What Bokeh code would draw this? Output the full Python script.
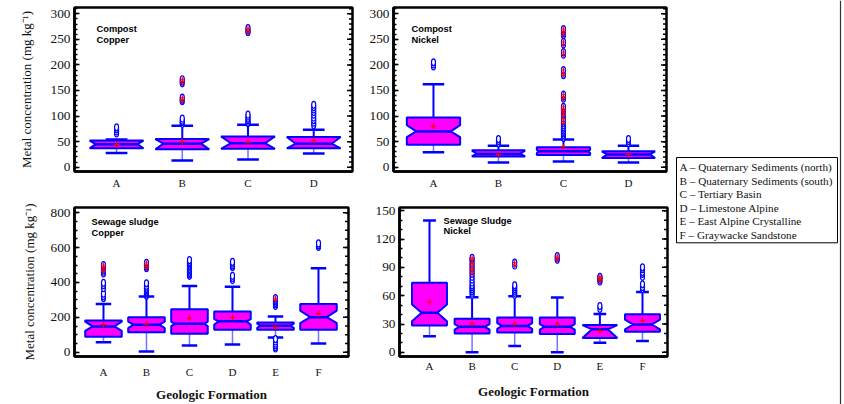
import numpy as np
from bokeh.plotting import figure
from bokeh.models import Range1d, FixedTicker, Label, Span
from bokeh.layouts import row, column
from bokeh.embed import file_html
from bokeh.resources import INLINE
from bokeh.core.properties import value

# ---------------- data ----------------
compost_cats = ["A", "B", "C", "D"]
sludge_cats = ["A", "B", "C", "D", "E", "F"]

legend_labels = [
    "A \u2013 Quaternary Sediments (north)",
    "B \u2013 Quaternary Sediments (south)",
    "C \u2013 Tertiary Basin",
    "D \u2013 Limestone Alpine",
    "E \u2013 East Alpine Crystalline",
    "F \u2013 Graywacke Sandstone",
]

# Compost - Copper
cc_lo = [28, 13, 15, 27]
cc_q1 = [37, 35, 36, 37]
cc_med = [45, 46, 47, 46]
cc_q3 = [52, 55, 60, 59]
cc_hi = [54, 81, 83, 73]
cc_mean = [44, 50, 49, 52]
cc_nlo = [37, 35, 36, 37]
cc_nhi = [52, 55, 60, 59]
cc_out = [
    [66, 70, 74, 78],
    [85, 88, 91, 95, 129, 132, 136, 164, 168, 172],
    [86, 89, 92, 95, 99, 103, 264, 268, 272],
    [82, 87, 92, 97, 103, 108, 113, 117, 122],
]

# Compost - Nickel
cn_lo = [29, 9, 11, 9]
cn_q1 = [44, 21, 24, 18]
cn_med = [70, 26, 31, 25]
cn_q3 = [97, 33, 39, 31]
cn_hi = [162, 42, 54, 42]
cn_mean = [80, 25, 40, 25]
cn_nlo = [59, 21, 28, 18]
cn_nhi = [82, 33, 34, 31]
cn_out = [
    [197, 201, 205],
    [47, 51, 55],
    [57, 60, 63, 66, 69, 72, 75, 78, 82, 86, 90, 95, 101, 104, 108, 111, 114, 118,
     134, 138, 142, 180, 185, 190, 220, 225, 240, 245, 258, 262, 266, 270],
    [47, 51, 55],
]

# Sewage sludge - Copper
sc_lo = [57, 4, 38, 44, 85, 50]
sc_q1 = [89, 114, 106, 129, 129, 129]
sc_med = [148, 158, 163, 177, 152, 201]
sc_q3 = [182, 201, 247, 234, 171, 277]
sc_hi = [277, 319, 380, 376, 205, 482]
sc_mean = [158, 161, 196, 199, 144, 220]
sc_nlo = [122, 138, 150, 158, 140, 167]
sc_nhi = [175, 176, 176, 190, 164, 239]
sc_out = [
    [310, 322, 336, 368, 384, 398, 452, 462, 472, 482, 492, 500],
    [324, 330, 336, 342, 348, 355, 362, 370, 380, 395, 482, 492, 502, 512],
    [438, 446, 454, 462, 470, 478, 486, 494, 502, 510, 518, 528],
    [414, 426, 438, 488, 498, 508, 518],
    [22, 30, 40, 50, 62, 75, 265, 275, 283, 292, 300, 310],
    [604, 614, 624],
]

# Sewage sludge - Nickel
sn_lo = [17, 0, 6.8, 0, 10.2, 11.9]
sn_q1 = [28.5, 20, 21, 19.3, 15.3, 21.8]
sn_med = [42, 27, 28, 27, 24.4, 29.5]
sn_q3 = [73.6, 35.6, 37, 37, 28.9, 40.4]
sn_hi = [139.5, 58.4, 59.4, 58, 40.7, 64]
sn_mean = [53.3, 30.2, 30, 30, 22.8, 33.6]
sn_nlo = [33, 24, 25, 24, 15.3, 24.4]
sn_nhi = [50.6, 30, 31, 30, 28.9, 34.6]
sn_out = [
    [],
    [61, 63, 65, 67, 69, 71, 74, 77, 80, 83, 86, 89, 92, 95, 98, 100],
    [61, 63, 65, 67, 69, 71, 92, 95],
    [98, 100, 102],
    [46, 49, 75, 77, 79, 80],
    [67, 69, 72, 80, 83, 85, 88, 90],
]

compost_major = [0, 50, 100, 150, 200, 250, 300]
compost_minor = list(range(0, 311, 10))
scu_major = [0, 200, 400, 600, 800]
scu_minor = list(range(0, 826, 50))
sni_major = [0, 30, 60, 90, 120, 150]
sni_minor = list(range(0, 151, 10))

YLABEL = "Metal concentration (mg kg\u207b\u00b9)"
XLABEL = "Geologic Formation"

# ---------------- styling ----------------
BLUE = "#0000FF"
MAG = "#FF00FF"
RED = "#FF0000"
SERIF = "Liberation Serif"
SANS = "Liberation Sans"


def panel(cats, lo, q1, med, q3, hi, mean, nlo, nhi, outl, names, name_pos, *,
          width, height, mb, xr, yr, major, minor, box_w, cap_w,
          ylabel=None, xlabel=None, x_standoff=6, xl_standoff=2, yl_standoff=14):
    fw = width - mb[0] - mb[1]
    fh = height - mb[2] - mb[3]
    p = figure(width=width, height=height, output_backend="svg", toolbar_location=None,
               x_range=Range1d(*xr), y_range=Range1d(*yr),
               min_border_left=mb[0], min_border_right=mb[1],
               min_border_top=mb[2], min_border_bottom=mb[3],
               background_fill_color="white", border_fill_color="white")
    p.xgrid.visible = False
    p.ygrid.visible = False
    p.outline_line_color = "black"
    p.outline_line_width = 2.5
    p.outline_line_alpha = 1

    xpx = fw / (xr[1] - xr[0])
    ypx = fh / (yr[1] - yr[0])
    n = len(cats)
    xs = np.arange(1, n + 1, dtype=float)
    hw = box_w / 2.0
    px_, py_, mx0, mx1 = [], [], [], []
    for i in range(n):
        x = xs[i]
        a = max(nlo[i], q1[i])
        b = min(nhi[i], q3[i])
        inset_px = min(0.55 * hw * xpx, 1.6 * (b - a) / 2.0 * ypx)
        ins = inset_px / xpx
        px_.append([x - hw, x + hw, x + hw, x + hw - ins, x + hw, x + hw,
                    x - hw, x - hw, x - hw + ins, x - hw])
        py_.append([q3[i], q3[i], b, med[i], a, q1[i], q1[i], a, med[i], b])
        mx0.append(x - hw + ins)
        mx1.append(x + hw - ins)

    p.segment(x0=xs, y0=q3, x1=xs, y1=hi, line_color=BLUE, line_width=2)
    p.segment(x0=xs, y0=q1, x1=xs, y1=lo, line_color=BLUE, line_width=1.5, line_alpha=0.55)
    p.segment(x0=xs - cap_w / 2, y0=hi, x1=xs + cap_w / 2, y1=hi, line_color=BLUE, line_width=2.5)
    p.segment(x0=xs - cap_w / 2, y0=lo, x1=xs + cap_w / 2, y1=lo, line_color=BLUE, line_width=2.5)
    p.patches(xs=px_, ys=py_, fill_color=MAG, line_color=BLUE, line_width=2)
    p.segment(x0=mx0, y0=med, x1=mx1, y1=med, line_color=BLUE, line_width=2.5)

    ox, oy, fx, fy = [], [], [], []
    for i in range(n):
        iqr = q3[i] - q1[i]
        for v in outl[i]:
            ox.append(xs[i])
            oy.append(v)
            if v > q3[i] + 3 * iqr or v < q1[i] - 3 * iqr:
                fx.append(xs[i])
                fy.append(v)
    p.ellipse(x=ox, y=oy, width=4, height=7, width_units="screen", height_units="screen",
              fill_color="white", line_color=BLUE, line_width=1.2)
    p.scatter(x=fx, y=fy, marker="cross", size=5, line_color=RED, line_width=1)
    p.scatter(x=xs, y=mean, marker="cross", size=6, line_color=RED, line_width=1.2)

    # x axis
    xa = p.xaxis[0]
    xa.ticker = FixedTicker(ticks=[int(v) for v in xs])
    xa.major_label_overrides = {int(v): c for v, c in zip(xs, cats)}
    xa.major_tick_in = 0
    xa.major_tick_out = 0
    xa.minor_tick_in = 0
    xa.minor_tick_out = 0
    xa.axis_line_color = "black"
    xa.axis_line_width = 2.5
    xa.major_label_text_font = SERIF
    xa.major_label_text_font_size = "11px"
    xa.major_label_text_color = "#111111"
    xa.major_label_standoff = x_standoff
    if xlabel:
        xa.axis_label = xlabel
        xa.axis_label_text_font = SERIF
        xa.axis_label_text_font_style = "bold"
        xa.axis_label_text_font_size = "13px"
        xa.axis_label_text_color = "#111111"
        xa.axis_label_standoff = xl_standoff

    # left y axis
    ya = p.yaxis[0]
    ya.ticker = FixedTicker(ticks=major, minor_ticks=minor)
    ya.major_tick_in = 5
    ya.major_tick_out = 0
    ya.minor_tick_in = 3
    ya.minor_tick_out = 0
    ya.major_tick_line_width = 1.5
    ya.minor_tick_line_width = 1.5
    ya.axis_line_color = "black"
    ya.axis_line_width = 2.5
    ya.major_label_text_font = SERIF
    ya.major_label_text_font_size = "13.3px"
    ya.major_label_text_color = "#111111"
    ya.major_label_standoff = 4
    if ylabel:
        ya.axis_label = ylabel
        ya.axis_label_text_font = SERIF
        ya.axis_label_text_font_style = "normal"
        ya.axis_label_text_font_size = "13px"
        ya.axis_label_text_color = "#111111"
        ya.axis_label_standoff = yl_standoff

    # mirrored tick marks on the right frame edge (inward)
    xr1 = xr[1]
    p.segment(x0=[xr1 - 5.5 / xpx] * len(major), y0=major, x1=[xr1] * len(major), y1=major,
              line_color="black", line_width=1.5)
    p.segment(x0=[xr1 - 3.5 / xpx] * len(minor), y0=minor, x1=[xr1] * len(minor), y1=minor,
              line_color="black", line_width=1.5)

    for txt, (lx, ly) in zip(names, name_pos):
        p.add_layout(Label(x=lx, y=ly, text=txt, text_font=SANS, text_font_style="bold",
                           text_font_size="9.3px", text_baseline="middle", text_color="black"))
    return p


p1 = panel(compost_cats, cc_lo, cc_q1, cc_med, cc_q3, cc_hi, cc_mean, cc_nlo, cc_nhi, cc_out,
           ["Compost", "Copper"], [(0.695, 271.2), (0.695, 249.7)],
           width=357, height=196, mb=(74, 5, 7, 25), xr=(0.36, 4.59), yr=(-8.4, 312.3),
           major=compost_major, minor=compost_minor, box_w=0.82, cap_w=0.33,
           ylabel=YLABEL, x_standoff=5, yl_standoff=14)
p2 = panel(compost_cats, cn_lo, cn_q1, cn_med, cn_q3, cn_hi, cn_mean, cn_nlo, cn_nhi, cn_out,
           ["Compost", "Nickel"], [(0.662, 271.2), (0.662, 249.7)],
           width=314, height=196, mb=(36, 5, 7, 25), xr=(0.385, 4.585), yr=(-8.4, 312.3),
           major=compost_major, minor=compost_minor, box_w=0.82, cap_w=0.33,
           x_standoff=5)
p3 = panel(sludge_cats, sc_lo, sc_q1, sc_med, sc_q3, sc_hi, sc_mean, sc_nlo, sc_nhi, sc_out,
           ["Sewage sludge", "Copper"], [(0.721, 744.5), (0.721, 681.9)],
           width=353, height=208, mb=(74, 5, 11, 47), xr=(0.326, 6.698), yr=(-24.5, 830),
           major=scu_major, minor=scu_minor, box_w=0.85, cap_w=0.36,
           ylabel=YLABEL, xlabel=XLABEL, x_standoff=9, xl_standoff=6, yl_standoff=11)
p4 = panel(sludge_cats, sn_lo, sn_q1, sn_med, sn_q3, sn_hi, sn_mean, sn_nlo, sn_nhi, sn_out,
           ["Sewage Sludge", "Nickel"], [(1.329, 139.1), (1.329, 128.5)],
           width=318, height=208, mb=(46, 4, 9, 44), xr=(0.296, 6.587), yr=(-4.4, 153.4),
           major=sni_major, minor=sni_minor, box_w=0.82, cap_w=0.3,
           xlabel=XLABEL, x_standoff=3, xl_standoff=9)

# legend panel (right side)
pl = figure(width=173, height=404, output_backend="svg", toolbar_location=None,
            x_range=Range1d(0, 173), y_range=Range1d(404, 0),
            x_axis_type=None, y_axis_type=None,
            min_border_left=0, min_border_right=0, min_border_top=0, min_border_bottom=0,
            background_fill_color="white", border_fill_color="white")
pl.outline_line_color = None
pl.grid.visible = False
pl.quad(left=5, right=166, top=157, bottom=242.3, fill_color=None, line_color="black", line_width=1)
ly = [166.7 + 13.5 * i for i in range(len(legend_labels))]
pl.text(x=[8] * len(legend_labels), y=ly, text=legend_labels, text_font=value(SERIF),
        text_font_size="11.2px", text_baseline="middle", text_color="#111111")
pl.add_layout(Span(location=169, dimension="height", line_color="#333333", line_width=1.2))

layout = row(column(row(p1, p2), row(p3, p4)), pl)

with open("out.html", "w") as f:
    f.write(file_html(layout, INLINE))
